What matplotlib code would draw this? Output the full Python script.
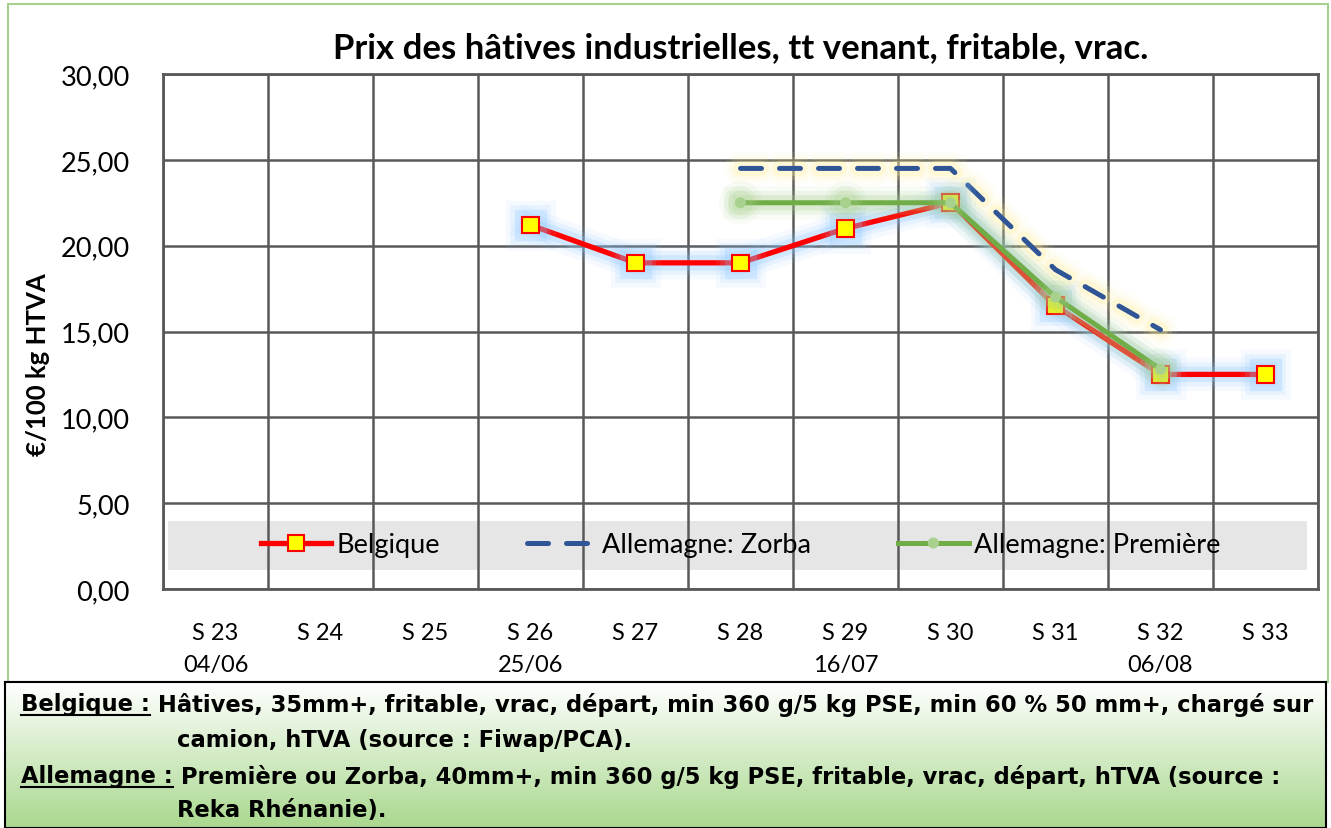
import numpy as np
import matplotlib
matplotlib.use("Agg")
from matplotlib import pyplot as plt
from matplotlib import patheffects as pe
from matplotlib.patches import Rectangle

# data
weeks = ["S 23", "S 24", "S 25", "S 26", "S 27", "S 28", "S 29", "S 30", "S 31", "S 32", "S 33"]
dates = ["04/06", "", "", "25/06", "", "", "16/07", "", "", "06/08", ""]
belgique = [None, None, None, 21.2, 19.0, 19.0, 21.0, 22.5, 16.5, 12.5, 12.5]
zorba = [None, None, None, None, None, 24.5, 24.5, 24.5, 18.6, 15.1, None]
premiere = [None, None, None, None, None, 22.5, 22.5, 22.5, 17.0, 12.8, None]
yticks = [0, 5, 10, 15, 20, 25, 30]

def to_arr(v):
    return np.array([np.nan if a is None else a for a in v], dtype=float)

def glow(color):
    return [pe.Stroke(linewidth=24, foreground=color, alpha=0.08),
            pe.Stroke(linewidth=17, foreground=color, alpha=0.14),
            pe.Stroke(linewidth=11, foreground=color, alpha=0.25),
            pe.Normal()]

plt.rcParams['font.family'] = ['Lato', 'DejaVu Sans']

W, H = 1331, 829
fig = plt.figure(figsize=(W / 100, H / 100), dpi=100)

# outer chart frame
fig.add_artist(Rectangle((8 / W, 1 - 683 / H), 1320 / W, 678 / H, transform=fig.transFigure,
                         facecolor='none', edgecolor='#a9d18e', linewidth=1.5, zorder=-5))
# grey band behind the legend
fig.add_artist(Rectangle((168 / W, 1 - 571 / H), (1307 - 168) / W, (571 - 522) / H,
                         transform=fig.transFigure, facecolor='#e6e6e6', edgecolor='none', zorder=0.5))

ax = fig.add_axes([163 / W, 1 - 590 / H, (1318 - 163) / W, (590 - 75) / H])
ax.set_zorder(1)
ax.patch.set_visible(False)
x = np.arange(len(weeks))

ax.plot(x, to_arr(belgique), color='#ff0000', lw=3.8, marker='s', ms=12,
        mfc='#ffff00', mec='#ff0000', mew=1.5, label='Belgique', zorder=4,
        path_effects=glow('#8ec8ff'))
ax.plot(x, to_arr(zorba), color='#2f5597', lw=3.6, ls=(0, (4.2, 3.6)),
        dash_capstyle='round', label='Allemagne: Zorba', zorder=3,
        path_effects=glow('#fff2a0'))
ax.plot(x, to_arr(premiere), color='#70ad47', lw=3.6, marker='o', ms=7,
        mfc='#a9d18e', mec='#a9d18e', label='Allemagne: Première', zorder=5,
        path_effects=glow('#a9d18e'))

ax.set_xlim(-0.5, len(weeks) - 0.5)
ax.set_ylim(0, 30)
ax.set_yticks(yticks)
ax.set_yticklabels([f"{v:.2f}".replace('.', ',') for v in yticks], fontsize=19.5)
ax.set_xticks(x)
ax.set_xticklabels([w + "\n" + d for w, d in zip(weeks, dates)], fontsize=17, linespacing=1.6)
ax.set_xticks(np.arange(-0.5, len(weeks), 1), minor=True)
ax.tick_params(axis='both', which='both', length=0)
ax.tick_params(axis='x', pad=24)
ax.tick_params(axis='y', pad=24)
ax.grid(axis='y', which='major', color='#595959', lw=1.8)
ax.grid(axis='x', which='minor', color='#595959', lw=1.8)
ax.set_axisbelow(True)
for s in ax.spines.values():
    s.set_color('#595959')
    s.set_linewidth(2)

ax.set_ylabel("€/100 kg HTVA", fontsize=18.5, fontweight='bold')
ax.yaxis.set_label_coords(-0.098, 0.437)
ax.set_title("Prix des hâtives industrielles, tt venant, fritable, vrac.",
             fontsize=25, fontweight='bold', pad=12)

leg = ax.legend(loc='center', bbox_to_anchor=(0.5, (590 - 546) / 515), ncol=3, frameon=False,
                fontsize=19.5, handlelength=2.6, handletextpad=0.2, columnspacing=3.2,
                borderaxespad=0)
for h in leg.get_lines():
    h.set_path_effects([pe.Normal()])

# footnote box with gradient
fax = fig.add_axes([5 / W, 0, 1321 / W, (829 - 683) / H])
grad = np.linspace(0, 1, 256).reshape(-1, 1)
top = np.array([1.0, 1.0, 1.0])
bot = np.array([0xa9, 0xd8, 0x8e]) / 255
img = top[None, None, :] * (1 - grad[:, :, None]) + bot[None, None, :] * grad[:, :, None]
fax.imshow(img, aspect='auto', extent=(0, 1, 0, 1), origin='upper')
fax.set_xlim(0, 1)
fax.set_ylim(0, 1)
fax.set_xticks([])
fax.set_yticks([])
for s in fax.spines.values():
    s.set_color('black')
    s.set_linewidth(1.5)

foot_font = dict(family=['DejaVu Sans'], fontweight='bold', fontsize=16.3)
lines = [
    (21, 705, "Belgique :", True),
    (131, 705, " Hâtives, 35mm+, fritable, vrac, départ, min 360 g/5 kg PSE, min 60 % 50 mm+, chargé sur", False),
    (177, 741, "camion, hTVA (source : Fiwap/PCA).", False),
    (21, 777, "Allemagne :", True),
    (131, 777, " Première ou Zorba, 40mm+, min 360 g/5 kg PSE, fritable, vrac, départ, hTVA (source :", False),
    (177, 811, "Reka Rhénanie).", False),
]
texts = []
for px, py, s, ul in lines:
    t = fig.text(px / W, 1 - py / H, s, ha='left', va='center', **foot_font)
    texts.append((t, ul))

fig.canvas.draw()
r = fig.canvas.get_renderer()
# place continuation text right after the underlined label, and underline it
for i in (0, 3):
    lab, _ = texts[i]
    bb = lab.get_window_extent(r)
    rest, _ = texts[i + 1]
    rest.set_x(bb.x1 / W)
    y = (bb.y0 + 1) / H
    fig.add_artist(plt.Line2D([bb.x0 / W, bb.x1 / W], [y, y], transform=fig.transFigure,
                              color='black', lw=1.5))

fig.savefig("out.png", dpi=100)
